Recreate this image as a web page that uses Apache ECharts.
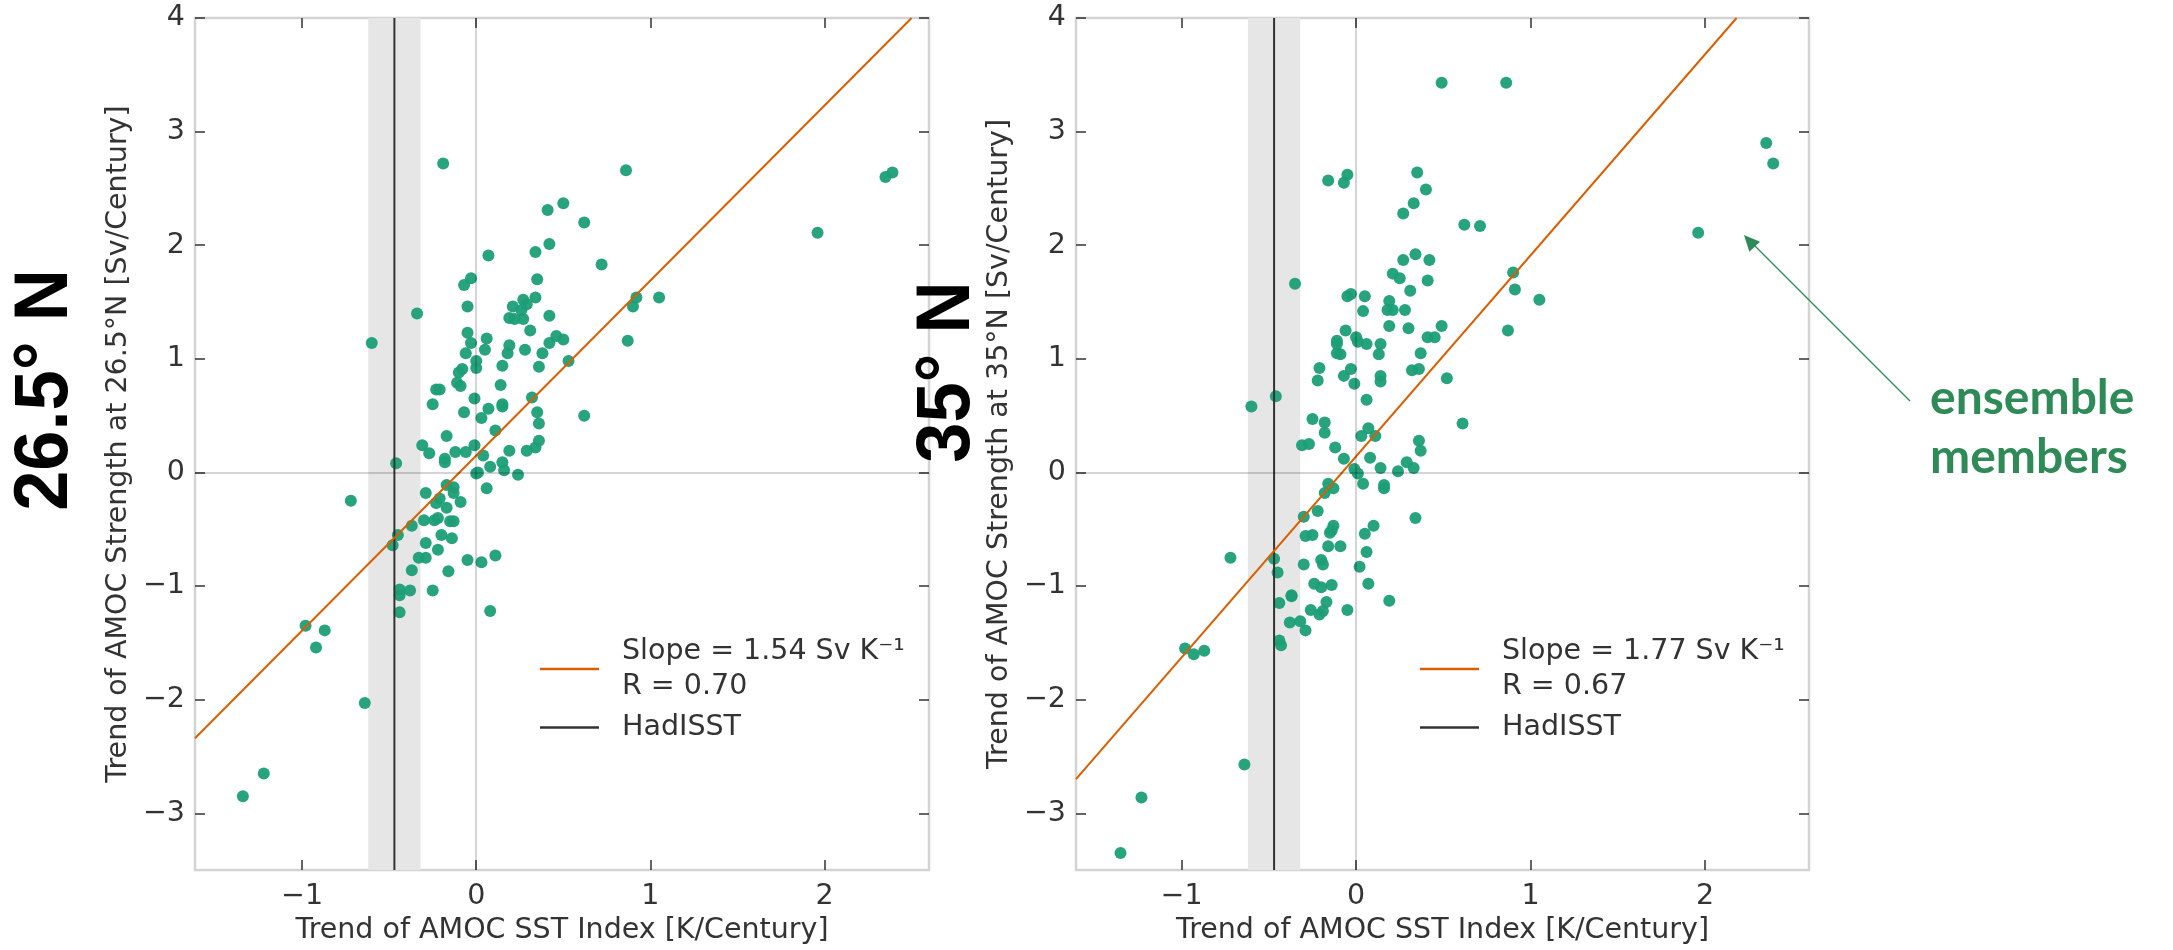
<!DOCTYPE html>
<html>
<head>
<meta charset="utf-8">
<script src="https://cdn.jsdelivr.net/npm/echarts@6/dist/echarts.min.js"></script>
<style>
html,body{margin:0;padding:0;background:#fff;}
#chart{width:2173px;height:950px;}
</style>
</head>
<body>
<div id="chart"></div>
<script>
// ---------- data ----------
const xTicks = [-1, 0, 1, 2];
const yTicks = [-3, -2, -1, 0, 1, 2, 3, 4];
const xRange26 = [-1.615, 2.60];
const xRange35 = [-1.605, 2.595];
const yRange = [-3.5, 4];

const panelTitles = ['26.5° N', '35° N'];
const xLabel = 'Trend of AMOC SST Index [K/Century]';
const yLabel26 = 'Trend of AMOC Strength at 26.5°N [Sv/Century]';
const yLabel35 = 'Trend of AMOC Strength at 35°N [Sv/Century]';
const fitName26 = 'Slope = 1.54 Sv K⁻¹\nR = 0.70';
const fitName35 = 'Slope = 1.77 Sv K⁻¹\nR = 0.67';
const obsName = 'HadISST';
const annotation = ['ensemble', 'members'];

// HadISST observed trend and its uncertainty band (K/century)
const hadisst = -0.47;
const hadisstBand = [-0.62, -0.32];

// regression lines (endpoints)
const fit26 = [[-1.615, -2.34], [2.50, 4.0]];
const fit35 = [[-1.605, -2.70], [2.18, 4.0]];

// ensemble members at 26.5N: [sst trend, amoc trend]
const members26 = [
  [-0.19, 2.72], [0.86, 2.66], [0.50, 2.37], [0.41, 2.31], [0.62, 2.20], [0.42, 2.01],
  [0.34, 1.94], [0.72, 1.83], [0.07, 1.91], [-0.03, 1.71], [-0.07, 1.65], [0.35, 1.70],
  [0.27, 1.52], [0.34, 1.54], [0.21, 1.46], [0.26, 1.43], [0.29, 1.48], [0.92, 1.54],
  [1.05, 1.54], [0.90, 1.46], [-0.34, 1.40], [-0.05, 1.46], [0.19, 1.36], [0.22, 1.35],
  [0.27, 1.35], [0.42, 1.38], [0.31, 1.25], [-0.05, 1.23], [0.06, 1.18], [0.05, 1.08],
  [-0.03, 1.14], [-0.06, 1.05], [0.19, 1.12], [0.18, 1.05], [0.28, 1.08], [0.42, 1.14],
  [0.46, 1.20], [0.50, 1.17], [0.38, 1.05], [0.87, 1.16], [-0.60, 1.14], [0.53, 0.98],
  [0.00, 0.98], [0.00, 0.92], [0.15, 0.94], [0.36, 0.93], [-0.08, 0.91], [-0.10, 0.88],
  [-0.11, 0.79], [-0.09, 0.76], [-0.23, 0.73], [-0.21, 0.73], [0.14, 0.77], [-0.25, 0.60],
  [-0.01, 0.65], [0.07, 0.56], [0.15, 0.60], [0.15, 0.58], [-0.07, 0.53], [0.03, 0.48],
  [0.32, 0.66], [0.35, 0.53], [0.36, 0.43], [0.62, 0.50], [0.11, 0.37], [-0.17, 0.32],
  [-0.31, 0.24], [-0.27, 0.17], [-0.18, 0.12], [-0.18, 0.09], [-0.12, 0.18], [-0.06, 0.18],
  [-0.01, 0.24], [0.04, 0.15], [0.19, 0.19], [0.29, 0.19], [0.34, 0.22], [0.36, 0.28],
  [-0.46, 0.08], [0.08, 0.05], [0.15, 0.09], [0.16, 0.02], [0.00, -0.01], [0.01, 0.00],
  [0.24, -0.02], [0.06, -0.14],
  [-0.72, -0.25], [-0.17, -0.11], [-0.13, -0.13], [-0.13, -0.18], [-0.29, -0.18], [-0.21, -0.23],
  [-0.23, -0.27], [-0.09, -0.26], [-0.17, -0.31], [-0.30, -0.42], [-0.24, -0.42], [-0.22, -0.40],
  [-0.15, -0.43], [-0.13, -0.43], [-0.37, -0.47], [-0.45, -0.55], [-0.48, -0.64], [-0.29, -0.62],
  [-0.20, -0.55], [-0.14, -0.58], [-0.22, -0.68], [-0.33, -0.75], [-0.29, -0.75], [-0.37, -0.86],
  [-0.16, -0.87], [-0.05, -0.77], [0.03, -0.79], [0.11, -0.73], [-0.44, -1.03], [-0.44, -1.08],
  [-0.38, -1.04], [-0.25, -1.04], [-0.44, -1.23], [0.08, -1.22], [-0.98, -1.35], [-0.87, -1.39],
  [-0.92, -1.54], [-0.64, -2.03], [-1.34, -2.85], [-1.22, -2.65], [1.96, 2.11], [2.35, 2.60],
  [2.39, 2.64]
];

// ensemble members at 35N
const members35 = [
  [0.49, 3.43], [0.86, 3.43], [-0.16, 2.57], [-0.05, 2.62], [-0.07, 2.55], [0.35, 2.64],
  [0.40, 2.49], [0.33, 2.37], [0.27, 2.28], [0.62, 2.18], [0.71, 2.17], [0.27, 1.87],
  [0.34, 1.92], [0.42, 1.87], [0.21, 1.75], [0.25, 1.71], [0.41, 1.69], [0.90, 1.76],
  [0.91, 1.61], [1.05, 1.52], [0.87, 1.25], [-0.35, 1.66], [-0.05, 1.55], [-0.03, 1.57],
  [0.05, 1.55], [0.04, 1.42], [0.31, 1.60], [0.19, 1.51], [0.18, 1.43], [0.21, 1.43],
  [0.28, 1.43], [0.19, 1.29], [0.30, 1.27], [0.49, 1.29], [-0.06, 1.25], [-0.11, 1.16],
  [-0.11, 1.13], [0.00, 1.19], [0.01, 1.15], [0.06, 1.13], [0.14, 1.13], [0.13, 1.04],
  [-0.11, 1.05], [-0.09, 1.04], [0.41, 1.19], [0.45, 1.19], [0.37, 1.05], [-0.21, 0.92],
  [-0.22, 0.81], [-0.03, 0.91], [-0.07, 0.85], [-0.01, 0.78], [0.14, 0.85], [0.14, 0.80],
  [0.32, 0.90], [0.36, 0.91], [0.52, 0.83], [0.06, 0.64], [-0.60, 0.58], [-0.46, 0.67],
  [-0.25, 0.47], [-0.18, 0.44], [-0.18, 0.35], [-0.31, 0.24], [-0.27, 0.25], [-0.12, 0.22],
  [0.07, 0.39], [0.03, 0.32], [0.11, 0.32], [0.08, 0.13], [-0.07, 0.12], [0.14, 0.04],
  [0.24, 0.01], [0.29, 0.09], [0.33, 0.04], [0.36, 0.28], [0.37, 0.19], [0.61, 0.43],
  [-0.01, 0.03], [0.01, -0.01], [-0.16, -0.10], [-0.13, -0.14], [0.04, -0.10], [0.16, -0.11],
  [0.16, -0.14], [-0.18, -0.18], [0.34, -0.40], [-0.22, -0.34], [-0.30, -0.39], [0.10, -0.47],
  [0.05, -0.54], [-0.13, -0.47], [-0.14, -0.51], [-0.15, -0.53], [-0.29, -0.56], [-0.25, -0.55],
  [-0.16, -0.65], [-0.09, -0.65], [0.06, -0.70], [0.02, -0.83], [-0.72, -0.75], [-0.47, -0.76],
  [-0.45, -0.88], [-0.30, -0.81], [-0.20, -0.77], [-0.19, -0.81], [-0.24, -0.98], [-0.20, -1.01],
  [-0.14, -0.99], [0.07, -0.98], [-0.44, -1.15], [-0.37, -1.09], [-0.37, -1.08], [-0.17, -1.14],
  [-0.26, -1.21], [-0.19, -1.22], [-0.21, -1.25], [-0.05, -1.21], [0.19, -1.13], [-0.38, -1.32],
  [-0.32, -1.31], [-0.29, -1.39], [-0.44, -1.48], [-0.43, -1.52], [-0.98, -1.55], [-0.93, -1.60],
  [-0.87, -1.57], [-0.64, -2.57], [-1.35, -3.35], [-1.23, -2.86], [1.96, 2.11], [2.35, 2.90],
  [2.39, 2.72]
];

// ---------- styling ----------
const FONT = '"DejaVu Sans", sans-serif';
const TXT = '#333333';
const GREEN = '#1b9e77';
const ORANGE = '#d95f02';
const FS = 28.5;

const grids = [
  { left: 195, top: 18, width: 734, height: 853 },
  { left: 1076, top: 18, width: 733, height: 853 }
];

function minusFmt(v) {
  return String(v).replace('-', '\u2212');
}

function mkX(gi, range, primary) {
  return {
    type: 'value', gridIndex: gi, min: range[0], max: range[1],
    position: primary ? 'bottom' : 'top',
    name: primary ? xLabel : '', nameLocation: 'middle', nameGap: 42,
    nameTextStyle: { fontFamily: FONT, fontSize: FS, color: TXT },
    axisLine: { show: false, onZero: false },
    splitLine: { show: false },
    axisTick: { show: true, inside: true, length: 10, customValues: xTicks,
      lineStyle: { color: '#333', width: 1.5 } },
    axisLabel: { show: primary, customValues: xTicks, margin: 12, formatter: minusFmt,
      fontFamily: FONT, fontSize: FS, color: TXT }
  };
}
function mkY(gi, name, primary) {
  return {
    type: 'value', gridIndex: gi, min: yRange[0], max: yRange[1],
    position: primary ? 'left' : 'right',
    name: primary ? name : '', nameLocation: 'middle', nameGap: 62,
    nameTextStyle: { fontFamily: FONT, fontSize: FS, color: TXT },
    axisLine: { show: false, onZero: false },
    splitLine: { show: false },
    axisTick: { show: true, inside: true, length: 10, customValues: yTicks,
      lineStyle: { color: '#333', width: 1.5 } },
    axisLabel: { show: primary, customValues: yTicks, margin: 10, formatter: minusFmt,
      fontFamily: FONT, fontSize: FS, color: TXT }
  };
}

function panelSeries(gi, members, fit, fitName) {
  const xi = gi * 2, yi = gi * 2;
  return [
    { // background: uncertainty band + zero lines
      type: 'line', xAxisIndex: xi, yAxisIndex: yi, data: [], z: 1, silent: true,
      markArea: { silent: true, itemStyle: { color: '#e6e6e6' },
        data: [[{ xAxis: hadisstBand[0] }, { xAxis: hadisstBand[1] }]] },
      markLine: { silent: true, symbol: 'none', label: { show: false },
        lineStyle: { color: 'rgba(0,0,0,0.17)', width: 2, type: 'solid' },
        data: [{ xAxis: 0 }, { yAxis: 0 }] }
    },
    {
      type: 'scatter', name: 'members', xAxisIndex: xi, yAxisIndex: yi, z: 2,
      data: members, symbolSize: 12, itemStyle: { color: GREEN, opacity: 0.95 }, silent: true
    },
    {
      type: 'line', name: obsName, xAxisIndex: xi, yAxisIndex: yi, z: 3,
      data: [[hadisst, yRange[0]], [hadisst, yRange[1]]], symbol: 'none',
      lineStyle: { color: '#333', width: 2 }, itemStyle: { color: '#333' }, silent: true
    },
    {
      type: 'line', name: fitName, xAxisIndex: xi, yAxisIndex: yi, z: 4,
      data: fit, symbol: 'none', lineStyle: { color: ORANGE, width: 2 },
      itemStyle: { color: ORANGE }, silent: true
    }
  ];
}

function mkLegend(left, fitName) {
  return {
    orient: 'vertical', left: left, top: 629, itemGap: 6,
    icon: 'rect', itemWidth: 59, itemHeight: 2.5, selectedMode: false,
    data: [fitName, obsName],
    textStyle: { fontFamily: FONT, fontSize: FS, color: TXT, lineHeight: 35,
      padding: [0, 0, 0, 18] }
  };
}

const chart = echarts.init(document.getElementById('chart'), null, { renderer: 'canvas' });

const titleFont = 'bold 76px "Liberation Sans", Arial, sans-serif';
const option = {
  backgroundColor: '#ffffff',
  animation: false,
  grid: grids.map(g => Object.assign({ show: true, borderColor: '#d3d3d3', borderWidth: 2.5,
    backgroundColor: 'transparent' }, g)),
  xAxis: [mkX(0, xRange26, true), mkX(0, xRange26, false), mkX(1, xRange35, true), mkX(1, xRange35, false)],
  yAxis: [mkY(0, yLabel26, true), mkY(0, '', false), mkY(1, yLabel35, true), mkY(1, '', false)],
  legend: [mkLegend(535, fitName26), mkLegend(1415, fitName35)],
  series: [].concat(panelSeries(0, members26, fit26, fitName26),
                    panelSeries(1, members35, fit35, fitName35)),
  graphic: [
    { type: 'text', x: 46, y: 390, rotation: Math.PI / 2, scaleX: 0.95, z: 100,
      style: { text: panelTitles[0], font: titleFont,
        fill: '#000', align: 'center', verticalAlign: 'middle' } },
    { type: 'text', x: 948, y: 372, rotation: Math.PI / 2, scaleX: 0.95, z: 100,
      style: { text: panelTitles[1], font: titleFont,
        fill: '#000', align: 'center', verticalAlign: 'middle' } },
    { type: 'text', x: 1930, y: 399, z: 100,
      style: { text: annotation[0], font: 'bold 48px Lato, "Noto Sans", sans-serif',
        fill: '#2e8b57', align: 'left', verticalAlign: 'middle' } },
    { type: 'text', x: 1930, y: 458, z: 100,
      style: { text: annotation[1], font: 'bold 48px Lato, "Noto Sans", sans-serif',
        fill: '#2e8b57', align: 'left', verticalAlign: 'middle' } },
    { type: 'line', z: 100, shape: { x1: 1910, y1: 401, x2: 1753, y2: 244 },
      style: { stroke: '#2e8b57', lineWidth: 1.2 } },
    { type: 'polygon', z: 100, shape: { points: [[1744, 235], [1760, 241.7], [1749.3, 251.7]] },
      style: { fill: '#2e8b57' } }
  ]
};
chart.setOption(option);
</script>
</body>
</html>
